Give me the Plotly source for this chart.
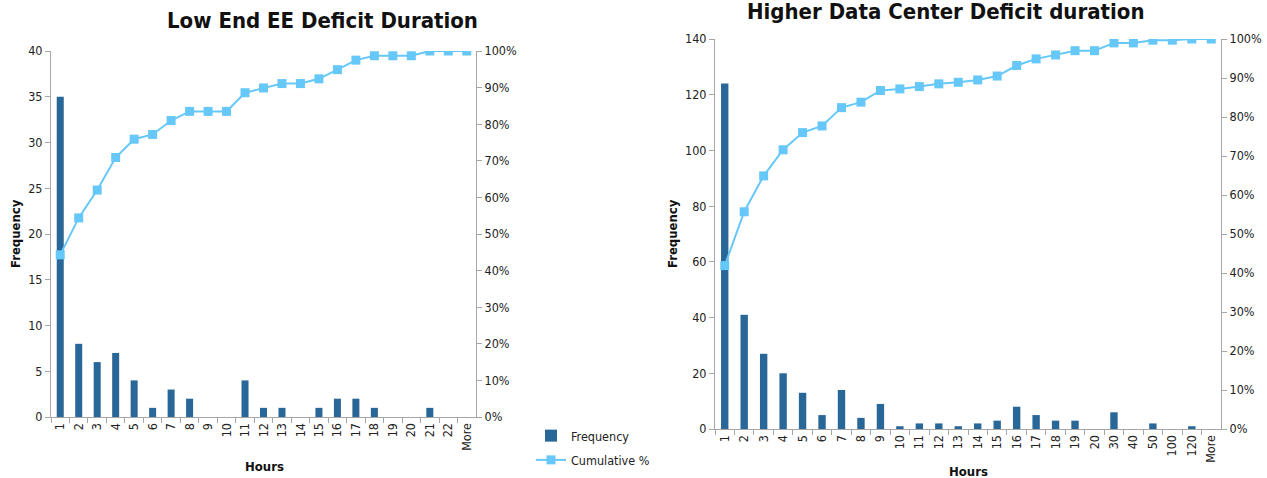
import plotly.graph_objects as go

# ---- data ----
left_hours = [str(i) for i in range(1, 23)] + ["More"]
left_freq = [35, 8, 6, 7, 4, 1, 3, 2, 0, 0, 4, 1, 1, 0, 1, 2, 2, 1, 0, 0, 1, 0, 0]
left_cum = [44.3, 54.4, 62.0, 70.9, 75.9, 77.2, 81.0, 83.5, 83.5, 83.5, 88.6, 89.9,
            91.1, 91.1, 92.4, 94.9, 97.5, 98.7, 98.7, 98.7, 100.0, 100.0, 100.0]

right_hours = [str(i) for i in range(1, 21)] + ["30", "40", "50", "100", "120", "More"]
right_freq = [124, 41, 27, 20, 13, 5, 14, 4, 9, 1, 2, 2, 1, 2, 3, 8, 5, 3, 3, 0, 6, 0, 2, 0, 1, 0]
right_cum = [41.9, 55.7, 64.9, 71.6, 76.0, 77.7, 82.4, 83.8, 86.8, 87.2, 87.8, 88.5, 88.9,
             89.5, 90.5, 93.2, 94.9, 95.9, 97.0, 97.0, 99.0, 99.0, 99.7, 99.7, 100.0, 100.0]

W, H = 1267, 478
BAR = "#2A6799"
LINE = "#66C8F8"
AX = "#A6A6A6"
FONT = "DejaVu Sans Condensed"

def px_x(p):
    return p / W

def px_y(p):
    return 1 - p / H

fig = go.Figure()

fig.add_trace(go.Bar(x=left_hours, y=left_freq, name="Frequency", marker_color=BAR,
                     marker_line_width=0, xaxis="x", yaxis="y", legendgroup="a"))
fig.add_trace(go.Scatter(x=left_hours, y=[v / 100 for v in left_cum], name="Cumulative %",
                         mode="lines+markers", line=dict(color=LINE, width=2),
                         marker=dict(symbol="square", size=9, color=LINE),
                         xaxis="x", yaxis="y2", legendgroup="b"))
fig.add_trace(go.Bar(x=right_hours, y=right_freq, name="Frequency", marker_color=BAR,
                     marker_line_width=0, xaxis="x2", yaxis="y3", showlegend=False))
fig.add_trace(go.Scatter(x=right_hours, y=[v / 100 for v in right_cum], name="Cumulative %",
                         mode="lines+markers", line=dict(color=LINE, width=2),
                         marker=dict(symbol="square", size=9, color=LINE),
                         xaxis="x2", yaxis="y4", showlegend=False))

tickfont = dict(family=FONT, size=12.5, color="#222222")
common_y = dict(showline=True, linecolor=AX, linewidth=1, ticks="outside", ticklen=5,
                tickcolor=AX, showgrid=False, zeroline=False, tickfont=tickfont,
                automargin=False)
common_x = dict(type="category", showline=True, linecolor=AX, linewidth=1, ticks="outside",
                ticklen=5, tickcolor=AX, tickson="boundaries", showgrid=False,
                tickangle=-90, tickfont=tickfont, automargin=False)

L_dom_x = [px_x(51), px_x(476)]
L_dom_y = [px_y(417), px_y(51)]
R_dom_x = [px_x(715), px_x(1221)]
R_dom_y = [px_y(429), px_y(39)]

fig.update_layout(
    width=W, height=H,
    margin=dict(l=0, r=0, t=0, b=0),
    paper_bgcolor="white", plot_bgcolor="white",
    bargap=0.62,
    font=dict(family=FONT, size=12, color="#222222"),
    xaxis=dict(domain=L_dom_x, anchor="y", range=[-0.5, len(left_hours) - 0.5], **common_x),
    yaxis=dict(domain=L_dom_y, anchor="x", range=[0, 40], dtick=5, **common_y),
    yaxis2=dict(overlaying="y", side="right", anchor="x", range=[0, 1], dtick=0.1,
                tickformat=".0%", **common_y),
    xaxis2=dict(domain=R_dom_x, anchor="y3", range=[-0.5, len(right_hours) - 0.5], **common_x),
    yaxis3=dict(domain=R_dom_y, anchor="x2", range=[0, 140], dtick=20, **common_y),
    yaxis4=dict(overlaying="y3", side="right", anchor="x2", range=[0, 1], dtick=0.1,
                tickformat=".0%", **common_y),
    legend=dict(x=px_x(531), y=px_y(421), xanchor="left", yanchor="top",
                font=dict(family=FONT, size=12.5, color="#222222"),
                bgcolor="rgba(0,0,0,0)", tracegroupgap=5, itemwidth=30),
    showlegend=True,
)

ann = []
def add(text, x, y, size, angle=0):
    ann.append(dict(text=text, x=px_x(x), y=px_y(y), xref="paper", yref="paper",
                    xanchor="center", yanchor="middle", showarrow=False, textangle=angle,
                    font=dict(family=FONT, size=size, color="#111111")))

add("<b>Low End EE Deficit Duration</b>", 322, 20, 22)
add("<b>Higher Data Center Deficit duration</b>", 945, 12, 22)
add("<b>Frequency</b>", 15, 234, 13, -90)
add("<b>Frequency</b>", 672, 234, 13, -90)
add("<b>Hours</b>", 264, 466, 13)
add("<b>Hours</b>", 968, 471, 13)
fig.update_layout(annotations=ann)

fig.write_html("out.html")
